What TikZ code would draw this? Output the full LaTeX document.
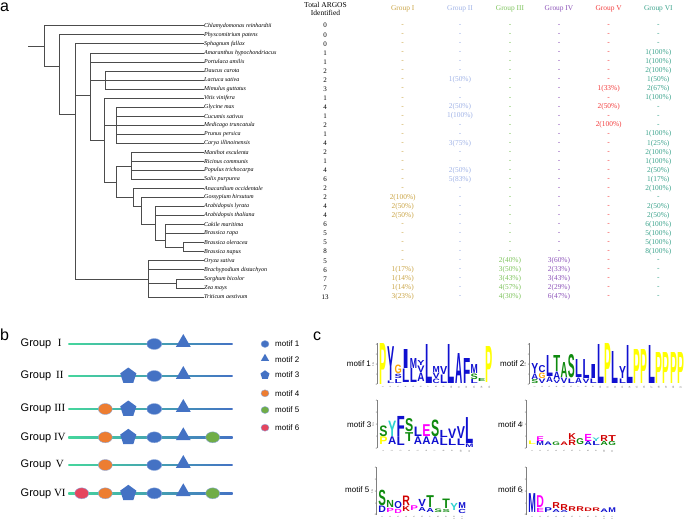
\documentclass[tikz,border=0pt]{standalone}
\usepackage{fontspec}
\setmainfont{Liberation Serif}
\setsansfont{Liberation Sans}
\usepackage{graphicx}
\usetikzlibrary{shapes.geometric,positioning,calc}

% table colours
\definecolor{gI}{HTML}{C9A343}
\definecolor{gII}{HTML}{9FB2E6}
\definecolor{gIII}{HTML}{7DC35B}
\definecolor{gIV}{HTML}{8B52B8}
\definecolor{gV}{HTML}{F23B3B}
\definecolor{gVI}{HTML}{3BA38C}
% motif colours
\definecolor{mBlue}{HTML}{4472C4}
\definecolor{mOrange}{HTML}{ED7D31}
\definecolor{mGreen}{HTML}{70AD47}
\definecolor{mRed}{HTML}{E5455E}
\definecolor{lnGreen}{HTML}{45D69C}
% logo colours
\definecolor{lB}{HTML}{1010D0}
\definecolor{lG}{HTML}{0E8A0E}
\definecolor{lO}{HTML}{FFA500}
\definecolor{lM}{HTML}{FF00FF}
\definecolor{lR}{HTML}{D00000}
\definecolor{lY}{HTML}{FFFF00}
\definecolor{lC}{HTML}{2ED0D0}

% one sequence logo: x0, base, px per bit, column width, id, letters
\newcommand\seqlogo[6]{%
  \foreach \i/\L/\C/\b/\h [count=\k] in {#6}{%
    \pgfmathsetmacro\lgh{max(\h*#3,0.3)}%
    \pgfmathsetmacro\lgw{#4-0.4}%
    \pgfmathsetmacro\lgx{#1+(\i-1)*#4+0.2}%
    \pgfmathsetmacro\lgy{#2-\b*#3}%
    \node[lgl,text=\C] (lg#5-\k) at (\lgx,\lgy) {\resizebox{\lgw pt}{\lgh pt}{\sffamily\bfseries\L}};}}
% axes of a logo: x0, base, px per bit, column width, columns, id
\newcommand\logoaxes[6]{%
  \draw[gray,line width=0.3pt] (#1-1.5,#2) -- (#1-1.5,#2-4.1*#3);
  \foreach \t in {0,...,4}
    \node[tick,anchor=east] (ty#6-\t) at (#1-1.8,#2-\t*#3) {\t};
  \node[tick,rotate=90] (bits#6) at (#1-6,#2-2*#3) {bits};
  \foreach \t in {1,...,#5}
    \node[tick,rotate=90,anchor=east] (tx#6-\t) at (#1+\t*#4-0.5*#4,#2+1.5) {\t};}

\begin{document}
\begin{tikzpicture}[x=1pt,y=-1pt,
    sp/.style={anchor=west,inner sep=0pt,font=\fontsize{6}{6}\selectfont\itshape},
    num/.style={inner sep=0pt,font=\fontsize{7}{7}\selectfont},
    cell/.style={inner sep=0pt,font=\fontsize{7.4}{7.4}\selectfont},
    br/.style={black!70,line width=0.6pt},
    grp/.style={anchor=west,inner sep=0pt,font=\sffamily\fontsize{11}{11}\selectfont},
    mot/.style={anchor=west,inner sep=0pt,font=\sffamily\fontsize{8}{8}\selectfont},
    panel/.style={inner sep=0pt,anchor=base west,font=\sffamily\fontsize{16}{16}\selectfont},
    ov/.style={ellipse,inner sep=0pt,minimum width=15pt,minimum height=11pt,line width=0.4pt},
    m1/.style={ov,fill=mBlue,draw=mBlue!60},
    m2/.style={regular polygon,regular polygon sides=3,fill=mBlue,inner sep=0pt,minimum size=17pt},
    m3/.style={regular polygon,regular polygon sides=5,fill=mBlue,inner sep=0pt,minimum size=17pt},
    m4/.style={ov,minimum width=14pt,fill=mOrange,draw=mBlue!60},
    m5/.style={ov,minimum width=14pt,fill=mGreen,draw=mBlue!60},
    m6/.style={ov,minimum width=14pt,fill=mRed,draw=mBlue!60},
    lgl/.style={inner sep=0pt,anchor=south west},
    tick/.style={inner sep=0pt,font=\fontsize{2.5}{2.5}\selectfont,text=black!70}]
  \useasboundingbox (0,0) rectangle (685,522);

  % panel letters
  \node[panel] (pa) at (0,12) {a};
  \node[panel] (pb) at (0,340) {b};
  \node[panel] (pc) at (313,340) {c};

  % species and totals
  \foreach \n/\t [count=\i] in {Chlamydomonas reinhardtii/0, Physcomitrium patens/0,
      Sphagnum fallax/0, Amaranthus hypochondriacus/1, Portulaca amilis/1,
      Daucus carota/2, Lactuca sativa/2, Mimulus guttatus/3, Vitis vinifera/1,
      Glycine max/4, Cucumis sativus/1, Medicago truncatula/2, Prunus persica/1,
      Carya illinoinensis/4, Manihot esculenta/2, Ricinus communis/1,
      Populus trichocarpa/4, Salix purpurea/6, Anacardium occidentale/2,
      Gossypium hirsutum/2, Arabidopsis lyrata/4, Arabidopsis thaliana/4,
      Cakile maritima/6, Brassica rapa/5, Brassica oleracea/5, Brassica napus/8,
      Oryza sativa/5, Brachypodium distachyon/6, Sorghum bicolor/7, Zea mays/7,
      Triticum aestivum/13}{
    \node[sp] (s\i) at (204,{25.7+(\i-1)*9.04}) {\n};
    \node[num] (n\i) at (325,{25.7+(\i-1)*9.04}) {\t};
  }

  % tree
  \coordinate (A) at (44,46);
  \coordinate (B) at (59.3,66.7);
  \coordinate (C) at (75,114.3);
  \coordinate (D) at (90.7,95.7);
  \coordinate (E) at (105,80);
  \coordinate (F) at (104.3,140.7);
  \coordinate (G) at (116.7,125.3);
  \coordinate (H) at (116.7,182.7);
  \coordinate (Ma) at (131.7,166.7);
  \coordinate (I) at (133,197.5);
  \coordinate (J) at (141.7,206.5);
  \coordinate (K) at (155,224.3);
  \coordinate (L) at (165.7,240);
  \coordinate (M) at (183.3,247.1);
  \coordinate (N) at (148.3,279.3);
  \coordinate (O) at (176,283.7);
  \draw[br] (28.3,46) -- (A);
  \draw[br] (A) |- (s1.west);
  \draw[br] (A) |- (B);
  \draw[br] (B) |- (s2.west);
  \draw[br] (B) |- (C);
  \draw[br] (C) |- (s3.west);
  \draw[br] (C) |- (D);
  \draw[br] (C) |- (N);
  \foreach \c in {s4,s5,F}
    \draw[br] (D) |- (\c.west);
  \draw[br] (D) |- (E);
  \foreach \c in {6,7,8}
    \draw[br] (E) |- (s\c.west);
  \draw[br] (F) |- (s9.west);
  \draw[br] (F) |- (G);
  \draw[br] (F) |- (H);
  \foreach \c in {10,...,14}
    \draw[br] (G) |- (s\c.west);
  \draw[br] (H) |- (Ma);
  \draw[br] (H) |- (I);
  \foreach \c in {15,...,18}
    \draw[br] (Ma) |- (s\c.west);
  \draw[br] (I) |- (s19.west);
  \draw[br] (I) |- (J);
  \draw[br] (J) |- (s20.west);
  \draw[br] (J) |- (K);
  \draw[br] (K) |- (s21.west);
  \draw[br] (K) |- (s22.west);
  \draw[br] (K) |- (L);
  \draw[br] (L) |- (s23.west);
  \draw[br] (L) |- (s24.west);
  \draw[br] (L) |- (M);
  \draw[br] (M) |- (s25.west);
  \draw[br] (M) |- (s26.west);
  \foreach \c in {27,28,31}
    \draw[br] (N) |- (s\c.west);
  \draw[br] (N) |- (O);
  \draw[br] (O) |- (s29.west);
  \draw[br] (O) |- (s30.west);

  % table headers
  \node[cell,align=center,font=\fontsize{7.5}{8.2}\selectfont] (tot) at (325.5,9) {Total ARGOS\\Identified};
  \foreach \g/\x [count=\j] in {I/402.7,II/460,III/510,IV/559,V/608.7,VI/658.3}
    \node[cell,text=g\g] (h\j) at (\x,8.5) {Group \g};

  % table cells
  \foreach \a/\b/\c/\d/\e/\f [count=\i] in {-/-/-/-/-/-, -/-/-/-/-/-, -/-/-/-/-/-,
      -/-/-/-/-/1(100\%), -/-/-/-/-/1(100\%), -/-/-/-/-/2(100\%),
      -/1(50\%)/-/-/-/1(50\%), -/-/-/-/1(33\%)/2(67\%), -/-/-/-/-/1(100\%),
      -/2(50\%)/-/-/2(50\%)/-, -/1(100\%)/-/-/-/-, -/-/-/-/2(100\%)/-,
      -/-/-/-/-/1(100\%), -/3(75\%)/-/-/-/1(25\%), -/-/-/-/-/2(100\%),
      -/-/-/-/-/1(100\%), -/2(50\%)/-/-/-/2(50\%), -/5(83\%)/-/-/-/1(17\%),
      -/-/-/-/-/2(100\%), 2(100\%)/-/-/-/-/-, 2(50\%)/-/-/-/-/2(50\%),
      2(50\%)/-/-/-/-/2(50\%), -/-/-/-/-/6(100\%), -/-/-/-/-/5(100\%),
      -/-/-/-/-/5(100\%), -/-/-/-/-/8(100\%), -/-/2(40\%)/3(60\%)/-/-,
      1(17\%)/-/3(50\%)/2(33\%)/-/-, 1(14\%)/-/3(43\%)/3(43\%)/-/-,
      1(14\%)/-/4(57\%)/2(29\%)/-/-, 3(23\%)/-/4(30\%)/6(47\%)/-/-}{
    \node[cell,text=gI] (cI\i) at (402.7,{25.7+(\i-1)*9.04}) {\a};
    \node[cell,text=gII] (cII\i) at (460,{25.7+(\i-1)*9.04}) {\b};
    \node[cell,text=gIII] (cIII\i) at (510,{25.7+(\i-1)*9.04}) {\c};
    \node[cell,text=gIV] (cIV\i) at (559,{25.7+(\i-1)*9.04}) {\d};
    \node[cell,text=gV] (cV\i) at (608.7,{25.7+(\i-1)*9.04}) {\e};
    \node[cell,text=gVI] (cVI\i) at (658.3,{25.7+(\i-1)*9.04}) {\f};
  }

  % panel b: motif structures
  \foreach \g/\y [count=\j] in {I/344,II/376,III/409,IV/437.3,V/465,VI/493.3}{
    \node[grp] (g\j) at (20.5,\y) {Group \makebox[11pt]{\rmfamily\g}};
    \shade[left color=lnGreen,right color=mBlue] (68.3,\y-0.7) rectangle (232.7,\y+0.7);
  }
  % Group I
  \node[m1] (gI1) at (154.3,344) {};
  \node[m2] (gI2) at (183.3,342.5) {};
  % Group II
  \node[m3] (gII3) at (128.3,376) {};
  \node[m1] (gII1) at (154.3,376) {};
  \node[m2] (gII2) at (183.3,374.5) {};
  % Group III
  \node[m4] (gIII4) at (105.3,409) {};
  \node[m3] (gIII3) at (128.3,409) {};
  \node[m1] (gIII1) at (154.3,409) {};
  \node[m2] (gIII2) at (183.3,407.5) {};
  % Group IV
  \node[m4] (gIV4) at (105.3,437.3) {};
  \node[m3] (gIV3) at (128.3,437.3) {};
  \node[m1] (gIV1) at (154.3,437.3) {};
  \node[m2] (gIV2) at (183.3,435.8) {};
  \node[m5] (gIV5) at (212.7,437.3) {};
  % Group V
  \node[m4] (gV4) at (105.3,465) {};
  \node[m1] (gV1) at (154.3,465) {};
  \node[m2] (gV2) at (183.3,463.5) {};
  % Group VI
  \node[m6] (gVI6) at (81.7,493.3) {};
  \node[m4] (gVI4) at (105.3,493.3) {};
  \node[m3] (gVI3) at (128.3,493.3) {};
  \node[m1] (gVI1) at (154.3,493.3) {};
  \node[m2] (gVI2) at (183.3,491.8) {};
  \node[m5] (gVI5) at (212.7,493.3) {};

  % legend
  \foreach \y [count=\j] in {344,359.3,375,393.3,410,427.7}
    \node[mot] (lt\j) at (275,\y) {motif \j};
  \node[m1,minimum width=8pt,minimum height=7pt] (k1) at (265,344) {};
  \node[m2,minimum size=9.5pt] (k2) at (265,358.5) {};
  \node[m3,minimum size=9.5pt] (k3) at (265,375) {};
  \node[m4,minimum width=8pt,minimum height=7pt] (k4) at (265,393.3) {};
  \node[m5,minimum width=8pt,minimum height=7pt] (k5) at (265,410) {};
  \node[m6,minimum width=8pt,minimum height=7pt] (k6) at (265,427.7) {};

  % panel c: sequence logos
  \node[mot] (ml1) at (346.7,363.3) {motif 1};
  \node[mot] (ml2) at (500,363.3) {motif 2};
  \node[mot] (ml3) at (347,424.3) {motif 3};
  \node[mot] (ml4) at (498,424.3) {motif 4};
  \node[mot] (ml5) at (345,490) {motif 5};
  \node[mot] (ml6) at (498,490) {motif 6};

  \logoaxes{379}{384.3}{10}{7.6}{15}{1}
  \seqlogo{379}{384.3}{10}{7.6}{1}{1/P/lY/0/4.1, 2/L/lB/0.05/0.25, 2/Y/lB/0.32/3.38,
    3/L/lB/0.1/0.4, 3/S/lB/0.52/0.43, 3/G/lO/1.0/0.85, 4/L/lB/0.2/1.35, 4/I/lB/1.6/1.9,
    5/L/lB/0.15/1.4, 5/M/lB/1.6/1.0, 6/A/lB/0.3/0.85, 6/V/lB/1.2/0.65, 6/Y/lB/1.9/0.5,
    7/L/lB/0.05/3.9, 8/C/lB/0.1/0.45, 8/V/lB/0.6/0.55, 8/M/lB/1.2/0.6, 9/L/lB/0.1/0.85,
    9/V/lB/1.0/0.8, 10/L/lB/0.05/3.9, 11/A/lB/0.05/3.0, 12/F/lB/0.05/2.5,
    13/L/lB/0.05/0.4, 13/S/lG/0.5/0.55, 13/M/lB/1.1/0.9, 14/E/lG/0.3/0.3, 15/P/lY/0.2/3.6}

  \logoaxes{531}{384.3}{10}{7.3}{21}{2}
  \seqlogo{531}{384.3}{10}{7.3}{2}{1/S/lG/0.1/0.4, 1/A/lB/0.5/0.55, 1/Y/lB/1.1/1.0,
    2/V/lB/0.1/0.45, 2/G/lO/0.6/0.55, 2/C/lB/1.2/0.7, 3/A/lB/0.2/0.55, 3/L/lB/0.8/2.1,
    4/V/lB/0.1/0.35, 4/A/lB/0.5/0.75, 4/T/lG/1.3/1.6, 5/V/lB/0.1/0.55, 5/A/lG/0.7/1.5,
    6/L/lB/0.1/0.45, 6/S/lG/0.6/2.3, 7/A/lB/0.1/0.55, 7/L/lB/0.7/1.8, 8/V/lB/0.1/0.45,
    8/L/lB/0.6/1.9, 9/L/lB/0.1/0.45, 9/I/lB/0.6/1.4, 10/L/lB/0.05/3.9, 11/P/lY/0.05/4.0,
    12/L/lB/0.1/3.2, 13/L/lB/0.1/0.45, 13/Y/lB/0.6/1.2, 14/L/lB/0.05/3.8,
    15/P/lY/0.05/3.4, 16/P/lY/0.05/3.4, 17/L/lB/0.05/3.8, 18/P/lY/0.05/3.1,
    19/P/lY/0.05/3.1, 20/P/lY/0.05/3.1, 21/P/lY/0.05/3.1}

  \logoaxes{379}{448.3}{11.8}{8.6}{11}{3}
  \seqlogo{379}{448.3}{11.8}{8.6}{3}{1/P/lY/0.3/0.65, 1/S/lG/1.0/0.9, 2/A/lB/0.3/0.65,
    2/Y/lC/1.0/1.3, 3/L/lB/0.2/0.75, 3/F/lB/1.0/1.7, 4/T/lG/0.6/0.75, 4/S/lG/1.4/1.1,
    5/A/lB/0.3/0.65, 5/L/lB/1.0/0.8, 6/A/lB/0.3/0.65, 6/E/lM/1.0/1.0, 7/A/lB/0.3/0.65,
    7/S/lG/1.0/1.4, 8/L/lB/0.2/0.65, 8/L/lB/0.9/0.6, 9/L/lB/0.2/0.55, 9/V/lB/0.8/0.8,
    10/L/lB/0.2/0.55, 10/V/lB/0.8/1.0, 11/M/lB/0.05/0.3, 11/L/lB/0.4/2.2}

  \logoaxes{528}{448.3}{11.8}{8}{11}{4}
  \seqlogo{528}{448.3}{11.8}{8}{4}{1/L/lY/0.3/0.3, 2/M/lB/0.2/0.35, 2/E/lM/0.6/0.4,
    3/A/lB/0.2/0.3, 4/G/lG/0.2/0.3, 5/A/lR/0.2/0.3, 6/R/lR/0.2/0.45, 6/K/lR/0.7/0.5,
    7/G/lG/0.3/0.5, 8/A/lB/0.2/0.35, 8/E/lM/0.6/0.6, 9/L/lB/0.2/0.35, 9/Y/lC/0.6/0.3,
    10/A/lG/0.2/0.35, 10/R/lR/0.6/0.5, 11/G/lG/0.2/0.35, 11/T/lR/0.6/0.5}

  \logoaxes{378}{515}{11.8}{8}{11}{5}
  \seqlogo{378}{515}{11.8}{8}{5}{1/D/lB/0.2/0.55, 1/S/lG/0.8/1.3, 2/P/lM/0.2/0.35,
    2/N/lG/0.6/0.6, 3/D/lM/0.1/0.35, 3/O/lB/0.5/0.6, 4/K/lR/0.3/0.45, 4/R/lR/0.8/0.8,
    5/P/lM/0.4/0.4, 6/A/lB/0.3/0.35, 6/V/lB/0.7/0.6, 7/A/lB/0.2/0.35, 7/T/lG/0.6/1.0,
    8/S/lG/0.2/0.3, 9/S/lG/0.2/0.25, 9/T/lG/0.5/0.8, 10/Y/lC/0.4/0.6, 11/C/lB/0.1/0.35,
    11/M/lB/0.5/0.5}

  \logoaxes{528}{515}{11.8}{8}{11}{6}
  \seqlogo{528}{515}{11.8}{8}{6}{1/M/lB/0.2/1.6, 2/E/lM/0.2/0.35, 2/D/lM/0.6/1.0,
    3/P/lB/0.2/0.4, 4/A/lB/0.2/0.25, 4/R/lR/0.5/0.5, 5/A/lB/0.2/0.18, 5/R/lR/0.4/0.5,
    6/R/lR/0.3/0.4, 7/R/lR/0.3/0.4, 8/D/lR/0.3/0.3, 9/R/lR/0.3/0.3, 10/A/lB/0.2/0.3,
    11/M/lB/0.2/0.4}
\end{tikzpicture}
\end{document}
